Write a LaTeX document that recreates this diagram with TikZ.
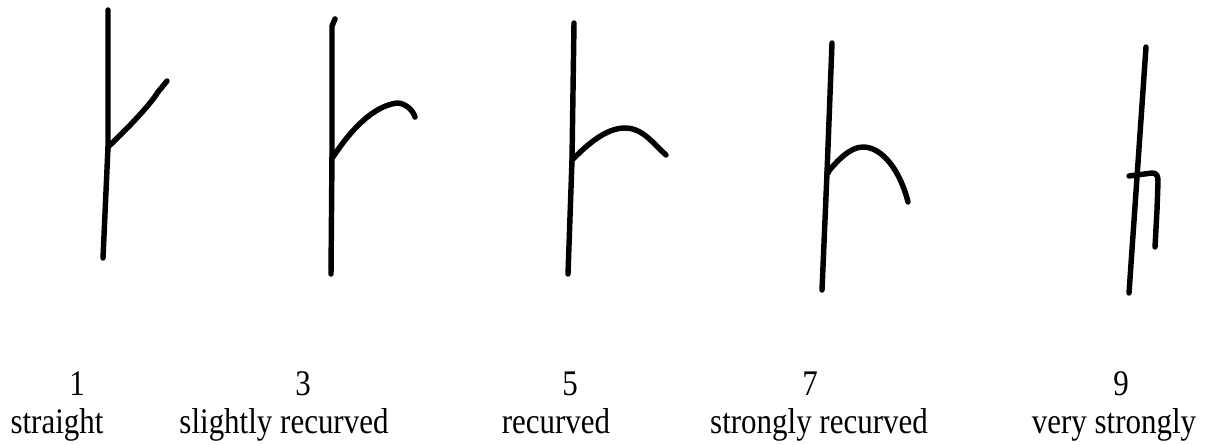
\documentclass[tikz,border=0pt]{standalone}
\usepackage{fontspec}
\setmainfont{Liberation Serif}
\usepackage{tikz}
\usetikzlibrary{calc}

\tikzset{
  hand/.style={line width=3.1pt, line cap=round, line join=round},
  grade/.style={anchor=base, inner sep=0pt, font=\fontsize{20.5}{22}\selectfont},
}
\newcommand{\narrow}[1]{\scalebox{0.86}[1]{#1}}

\begin{document}
\begin{tikzpicture}[x=0.02cm, y=-0.02cm]
  \useasboundingbox (0,0) rectangle (1207,444);

  % 1 - straight
  \draw[hand] (108,10) -- (108,147) -- (103,258);
  \draw[hand] (108,147) .. controls (128,128) and (150,105) .. (158,92) -- (167,81);

  % 3 - slightly recurved
  \draw[hand] (335,19) -- (332,26) -- (332,153) -- (331,274);
  \draw[hand] (333,157) .. controls (352,128) and (374,106) .. (397,103)
                        .. controls (405,103) and (413,110) .. (415,117);

  % 5 - recurved
  \draw[hand] (574,23) -- (572,160) -- (568,274);
  \draw[hand] (572,160) .. controls (588,144) and (606,128) .. (625,128)
                        .. controls (642,128) and (652,142) .. (666,155);

  % 7 - strongly recurved
  \draw[hand] (832,43) -- (827,173) -- (822,290);
  \fill (828,172) circle (3.5);
  \draw[hand] (827,173) .. controls (838,160) and (850,147) .. (863,147)
                        .. controls (882,147) and (900,170) .. (908,202);

  % 9 - very strongly
  \draw[hand] (1146,47) -- (1129,293);
  \draw[hand] (1129,176) -- (1152,173) .. controls (1157,173) and (1158,176) .. (1158,182)
                         -- (1157,210) -- (1155,247);

  % Степени и подписи
  \node[grade] (n1) at (77,395) {\narrow{1}};
  \node[grade] (t1) at (57,433) {\narrow{straight}};
  \node[grade] (n3) at (303,395) {\narrow{3}};
  \node[grade] (t3) at (284,433) {\narrow{slightly recurved}};
  \node[grade] (n5) at (570,395) {\narrow{5}};
  \node[grade] (t5) at (556,433) {\narrow{recurved}};
  \node[grade] (n7) at (810,395) {\narrow{7}};
  \node[grade] (t7) at (819,433) {\narrow{strongly recurved}};
  \node[grade] (n9) at (1121,395) {\narrow{9}};
  \node[grade] (t9) at (1114,433) {\narrow{very strongly}};
\end{tikzpicture}
\end{document}
